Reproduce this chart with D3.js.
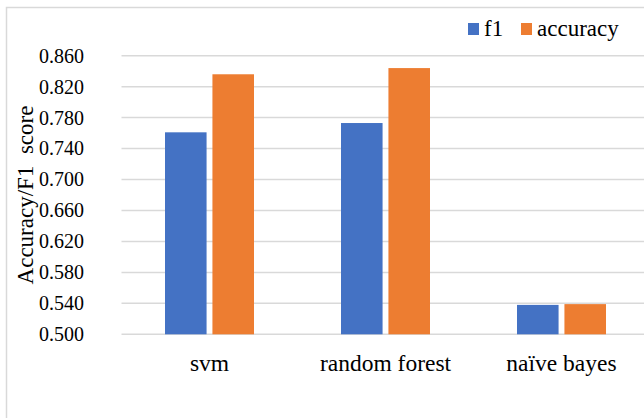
<!DOCTYPE html>
<html>
<head>
<meta charset="utf-8">
<script src="https://cdn.jsdelivr.net/npm/d3@7"></script>
<style>
  html, body { margin: 0; padding: 0; background: #fff; }
  svg { display: block; }
  svg text { font-family: "Liberation Serif", "Times New Roman", serif; }
</style>
</head>
<body>
<svg id="chart" width="644" height="418"></svg>
<script>
const categories = ["svm", "random forest", "naïve bayes"];
const seriesNames = ["f1", "accuracy"];
const f1Values = [0.761, 0.773, 0.538];
const accuracyValues = [0.836, 0.844, 0.539];
const yTicks = [0.500, 0.540, 0.580, 0.620, 0.660, 0.700, 0.740, 0.780, 0.820, 0.860];
const colors = ["#4472C4", "#ED7D31"];

const font = "Liberation Serif, Times New Roman, serif";
const svg = d3.select("#chart");

// chart frame
svg.append("rect").attr("x", 6.5).attr("y", 7.5).attr("width", 700).attr("height", 500)
  .attr("fill", "#fff").attr("stroke", "#d9d9d9").attr("stroke-width", 1.5);

const plotLeft = 121.5, plotRight = 649.5;
const y = d3.scaleLinear().domain([0.5, 0.86]).range([334.3, 55.7]);
const x0 = d3.scaleBand().domain(categories).range([plotLeft, plotRight]).paddingInner(0).paddingOuter(0);
const x1 = d3.scaleBand().domain(seriesNames).range([43.5, 176 - 43.5]).paddingInner(11 / 89);

// gridlines
const grid = svg.append("g").attr("class", "grid");
grid.selectAll("line").data(yTicks).join("line")
  .attr("x1", plotLeft).attr("x2", 644)
  .attr("y1", d => y(d)).attr("y2", d => y(d))
  .attr("stroke", "#d9d9d9").attr("stroke-width", 1.5);

// y axis labels
const yAxis = d3.axisLeft(y).tickValues(yTicks).tickFormat(d3.format(".3f")).tickSize(0).tickPadding(0);
const yg = svg.append("g").attr("transform", `translate(84,0)`).call(yAxis);
yg.select(".domain").remove();
yg.attr("font-family", null).attr("font-size", null);
yg.selectAll("text").style("font-family", font).style("font-size", "20px").attr("fill", "#000");

// bars
const data = categories.map((c, i) => ({ cat: c, vals: [f1Values[i], accuracyValues[i]] }));
const groups = svg.append("g").selectAll("g").data(data).join("g")
  .attr("transform", d => `translate(${x0(d.cat)},0)`);
groups.selectAll("rect").data(d => d.vals.map((v, j) => ({ v, s: seriesNames[j], j })))
  .join("rect")
  .attr("x", d => x1(d.s))
  .attr("width", x1.bandwidth())
  .attr("y", d => y(d.v))
  .attr("height", d => y(0.5) - y(d.v))
  .attr("fill", d => colors[d.j]);

// x axis labels
const xAxis = d3.axisBottom(x0).tickSize(0).tickPadding(0);
const xg = svg.append("g").attr("transform", `translate(0,0)`).call(xAxis);
xg.select(".domain").remove();
xg.attr("font-family", null).attr("font-size", null);
xg.selectAll("text").attr("y", 371).attr("dy", null)
  .style("font-family", font).style("font-size", "23.5px").attr("fill", "#000");

// y title
svg.append("text")
  .attr("transform", "translate(33,195) rotate(-90)")
  .attr("text-anchor", "middle")
  .style("font-family", font).style("font-size", "23px").attr("fill", "#000")
  .style("white-space", "pre")
  .text("Accuracy/F1  score");

// legend
const legend = svg.append("g");
const legendItems = [
  { name: "f1", color: colors[0], x: 468 },
  { name: "accuracy", color: colors[1], x: 521 }
];
legendItems.forEach(it => {
  legend.append("rect").attr("x", it.x).attr("y", 23).attr("width", 11).attr("height", 12).attr("fill", it.color);
  legend.append("text").attr("x", it.x + 16).attr("y", 36)
    .style("font-family", font).style("font-size", "23px").attr("fill", "#000").text(it.name);
});
</script>
</body>
</html>
